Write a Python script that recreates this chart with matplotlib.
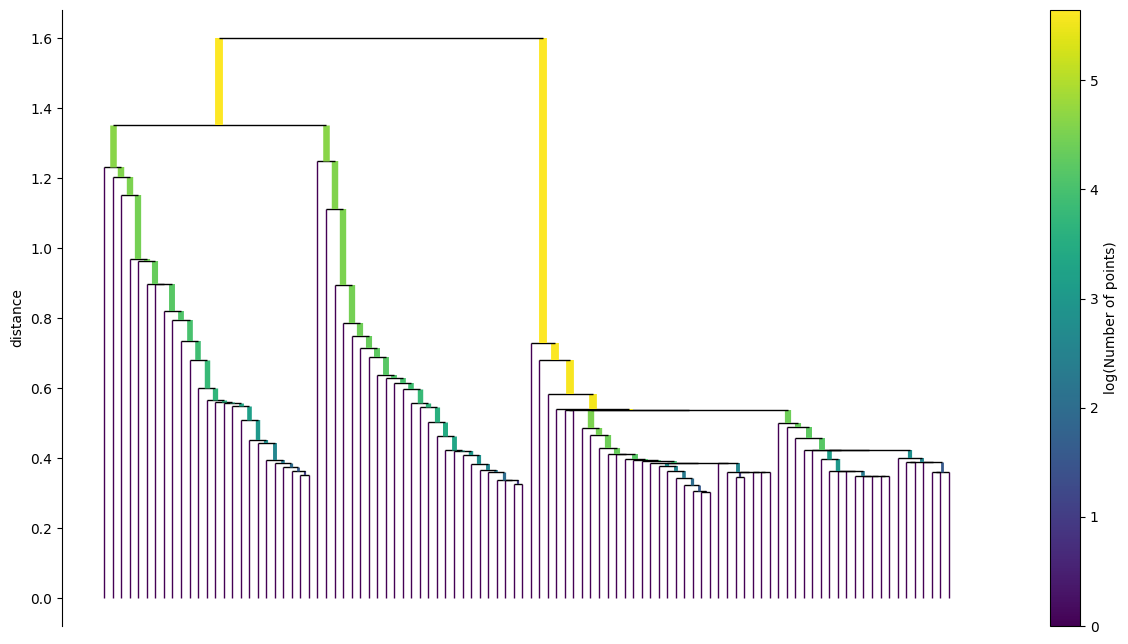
import numpy as np
import matplotlib
matplotlib.use("Agg")
import matplotlib.pyplot as plt

# ---------------- data (merge distances) ----------------
n_points = 100
root_height = 1.600
left_mid_height = 1.351

# left subtree: leaves 0-23 each join the cluster on their right; leaf 24 pairs with 23
left_heights = [1.232, 1.202, 1.151, 0.968, 0.962, 0.897, 0.897, 0.820, 0.794, 0.734,
                0.680, 0.599, 0.565, 0.560, 0.558, 0.549, 0.509, 0.451, 0.444, 0.394,
                0.386, 0.374, 0.364, 0.351]
# middle subtree: leaves 25-48 join the cluster on their right; leaf 49 pairs with 48
mid_heights = [1.250, 1.111, 0.893, 0.785, 0.749, 0.714, 0.690, 0.636, 0.629, 0.614,
               0.597, 0.557, 0.546, 0.503, 0.462, 0.423, 0.421, 0.409, 0.383, 0.366,
               0.360, 0.337, 0.337, 0.325]
# right subtree
right_top_heights = [0.728, 0.679, 0.583]          # leaves 50-52
right_split_heights = [0.540, 0.538, 0.536, 0.536]  # leaf 53, Y, (54,55), A+B
a_heights = [0.485, 0.466, 0.429, 0.411, 0.411, 0.396, 0.394, 0.391]  # leaves 56-63
w_height = 0.385
g_heights = [0.378, 0.363, 0.342, 0.323, 0.307, 0.302]  # leaves 65-70
c_heights = [0.361, 0.347]
b_heights = [0.499, 0.490, 0.456, 0.424, 0.423]      # leaves 79-83
d_heights = [0.423, 0.397, 0.363, 0.349]             # D1+D2, D1, D1', F
d2_heights = [0.401, 0.388, 0.359]                   # D2, inner, E


def chain(leaves, heights, tail=None):
    leaves = list(leaves)
    if tail is None:
        tail = leaves[-1]
        leaves = leaves[:-1]
    node = tail
    for leaf, h in zip(reversed(leaves), reversed(heights)):
        node = (leaf, node, h)
    return node


left_tree = chain(range(0, 25), left_heights)
mid_tree = chain(range(25, 50), mid_heights)

F = chain(range(88, 93), [d_heights[3]] * 4)
D1p = chain([85, 86, 87], [d_heights[2]] * 3, F)
D1 = (84, D1p, d_heights[1])
E = ((97, 98, d2_heights[2]), 99, d2_heights[2])
D2 = (93, ((94, 95, d2_heights[1]), (96, E, d2_heights[1]), d2_heights[1]), d2_heights[0])
B = chain(range(79, 84), b_heights, (D1, D2, d_heights[0]))
P = (74, 75, c_heights[1])
C = (73, (P, (76, (77, 78, c_heights[0]), c_heights[0]), c_heights[0]), c_heights[0])
G = chain(range(65, 72), g_heights)
W = (64, (G, (72, C, w_height), w_height), w_height)
A = chain(range(56, 64), a_heights, W)
AB = (A, B, right_split_heights[3])
Y = ((54, 55, right_split_heights[2]), AB, right_split_heights[1])
X = (53, Y, right_split_heights[0])
right_tree = chain([50, 51, 52], right_top_heights, X)

tree = ((left_tree, mid_tree, left_mid_height), right_tree, root_height)

# ---------------- layout (scipy-dendrogram style) ----------------
links = []


def layout(node):
    if isinstance(node, int):
        return 5.0 + 10.0 * node, 0.0, 1
    l, r, h = node
    xl, hl, nl = layout(l)
    xr, hr, nr = layout(r)
    links.append(([xl, xl, xr, xr], [hl, h, h, hr], (nl, nr)))
    return (xl + xr) / 2.0, h, nl + nr


layout(tree)

fig = plt.figure(figsize=(11.28, 6.44), dpi=100)
ax = fig.add_axes([62 / 1128, 1 - 626 / 644, (991 - 62) / 1128, 616 / 644])
cax = fig.add_axes([1050 / 1128, 1 - 626 / 644, 30 / 1128, 616 / 644])

color_array = np.log2(np.array([lw for _, _, lw in links]).flatten())
sm = plt.cm.ScalarMappable(cmap='viridis', norm=plt.Normalize(0, color_array.max()))
sm.set_array(color_array)

for x, y, lw in links:
    ax.plot(x[:2], y[:2], color=sm.to_rgba(np.log2(lw[0])), linewidth=np.log2(1 + lw[0]),
            solid_joinstyle='miter', solid_capstyle='butt')
    ax.plot(x[2:], y[2:], color=sm.to_rgba(np.log2(lw[1])), linewidth=np.log2(1 + lw[1]),
            solid_joinstyle='miter', solid_capstyle='butt')
    ax.plot(x[1:3], y[1:3], color='k', linewidth=1.0,
            solid_joinstyle='miter', solid_capstyle='butt')

cb = fig.colorbar(sm, cax=cax)
cb.ax.set_ylabel('log(Number of points)')

ax.set_xticks([])
for side in ('right', 'top', 'bottom'):
    ax.spines[side].set_visible(False)
ax.set_ylabel('distance')

fig.savefig('out.png', dpi=100)
